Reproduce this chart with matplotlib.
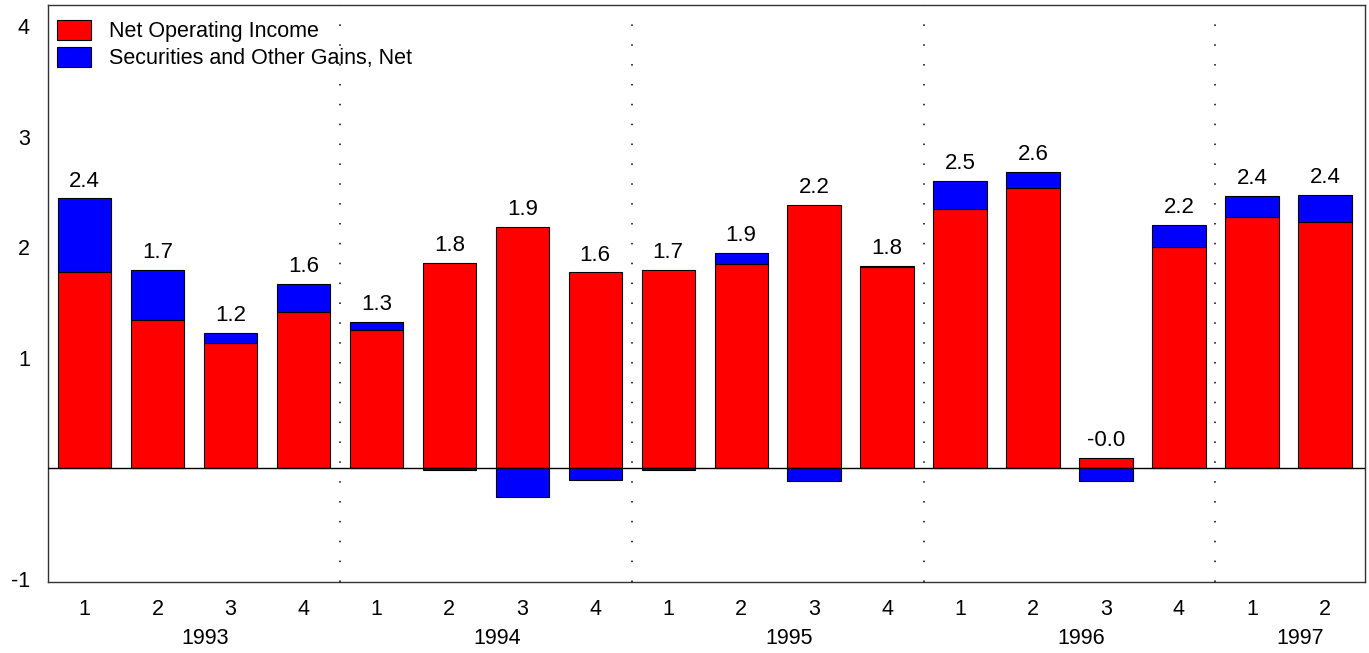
import numpy as np
import matplotlib
matplotlib.use("Agg")
import matplotlib.pyplot as plt
from matplotlib.transforms import blended_transform_factory

plt.rcParams['font.family'] = ['Liberation Sans', 'DejaVu Sans']

years = ["1993", "1994", "1995", "1996", "1997"]
quarters = ["1", "2", "3", "4", "1", "2", "3", "4", "1", "2", "3", "4",
            "1", "2", "3", "4", "1", "2"]
net_operating_income = [1.77, 1.34, 1.13, 1.41, 1.25, 1.86, 2.18, 1.77, 1.79,
                        1.85, 2.38, 1.82, 2.34, 2.53, 0.09, 2.00, 2.27, 2.23]
securities_gains = [0.67, 0.45, 0.09, 0.26, 0.07, -0.02, -0.26, -0.11, -0.02,
                    0.10, -0.12, 0.01, 0.26, 0.15, -0.12, 0.20, 0.19, 0.24]
total_labels = ["2.4", "1.7", "1.2", "1.6", "1.3", "1.8", "1.9", "1.6", "1.7",
                "1.9", "2.2", "1.8", "2.5", "2.6", "-0.0", "2.2", "2.4", "2.4"]
yticks = [-1, 1, 2, 3, 4]

noi = np.array(net_operating_income)
gains = np.array(securities_gains)
x = np.arange(len(quarters))

fig = plt.figure(figsize=(13.69, 6.53), dpi=100)
ax = fig.add_axes([48/1369, 1-582/653, (1365-48)/1369, (582-5)/653])

w = 0.73
ax.bar(x, noi, width=w, color='#FF0000', edgecolor='black', linewidth=0.8,
       label='Net Operating Income', zorder=3)
gbottom = np.where(gains > 0, noi, 0)
ax.bar(x, gains, bottom=gbottom, width=w, color='#0000FF', edgecolor='black',
       linewidth=0.8, label='Securities and Other Gains, Net', zorder=3)

ax.axhline(0, color='black', linewidth=1.0, zorder=4)

# year separators
for b in range(4, len(quarters), 4):
    ax.axvline(b - 0.5, color='black', linewidth=1.1, linestyle=(0, (1, 12)),
               zorder=2)

# value labels
tops = np.maximum(noi + np.where(gains > 0, gains, 0), noi)
for xi, t, lab in zip(x, tops, total_labels):
    ax.annotate(lab, (xi, t), xytext=(0, 8.5), textcoords='offset points',
                ha='center', va='baseline', fontsize=16)

ax.set_xlim(-0.5, 17.55)
ax.set_ylim(-1.03, 4.19)
ax.set_yticks(yticks)
ax.set_yticklabels([str(v) for v in yticks], fontsize=15.5)
ax.set_xticks(x)
ax.set_xticklabels(quarters, fontsize=15.5)
ax.tick_params(axis='both', length=0)
ax.tick_params(axis='y', pad=13)
ax.tick_params(axis='x', pad=12)

trans = blended_transform_factory(ax.transData, ax.transAxes)
n = len(quarters)
for i, yr in enumerate(years):
    start = 4 * i
    end = min(start + 4, n)
    center = (start + end - 1) / 2 + 0.16
    ax.text(center, -56/577, yr, transform=trans, ha='center',
            va='center', fontsize=15.5)

for s in ax.spines.values():
    s.set_color('#333333')
    s.set_linewidth(1.0)

leg = ax.legend(loc='upper left', bbox_to_anchor=(9/1317, 1 - 15/577),
                frameon=False, fontsize=15.5, handlelength=1.6,
                handleheight=1.05, handletextpad=0.8, labelspacing=0.2,
                borderpad=0, borderaxespad=0)

fig.savefig('out.png', dpi=100)
